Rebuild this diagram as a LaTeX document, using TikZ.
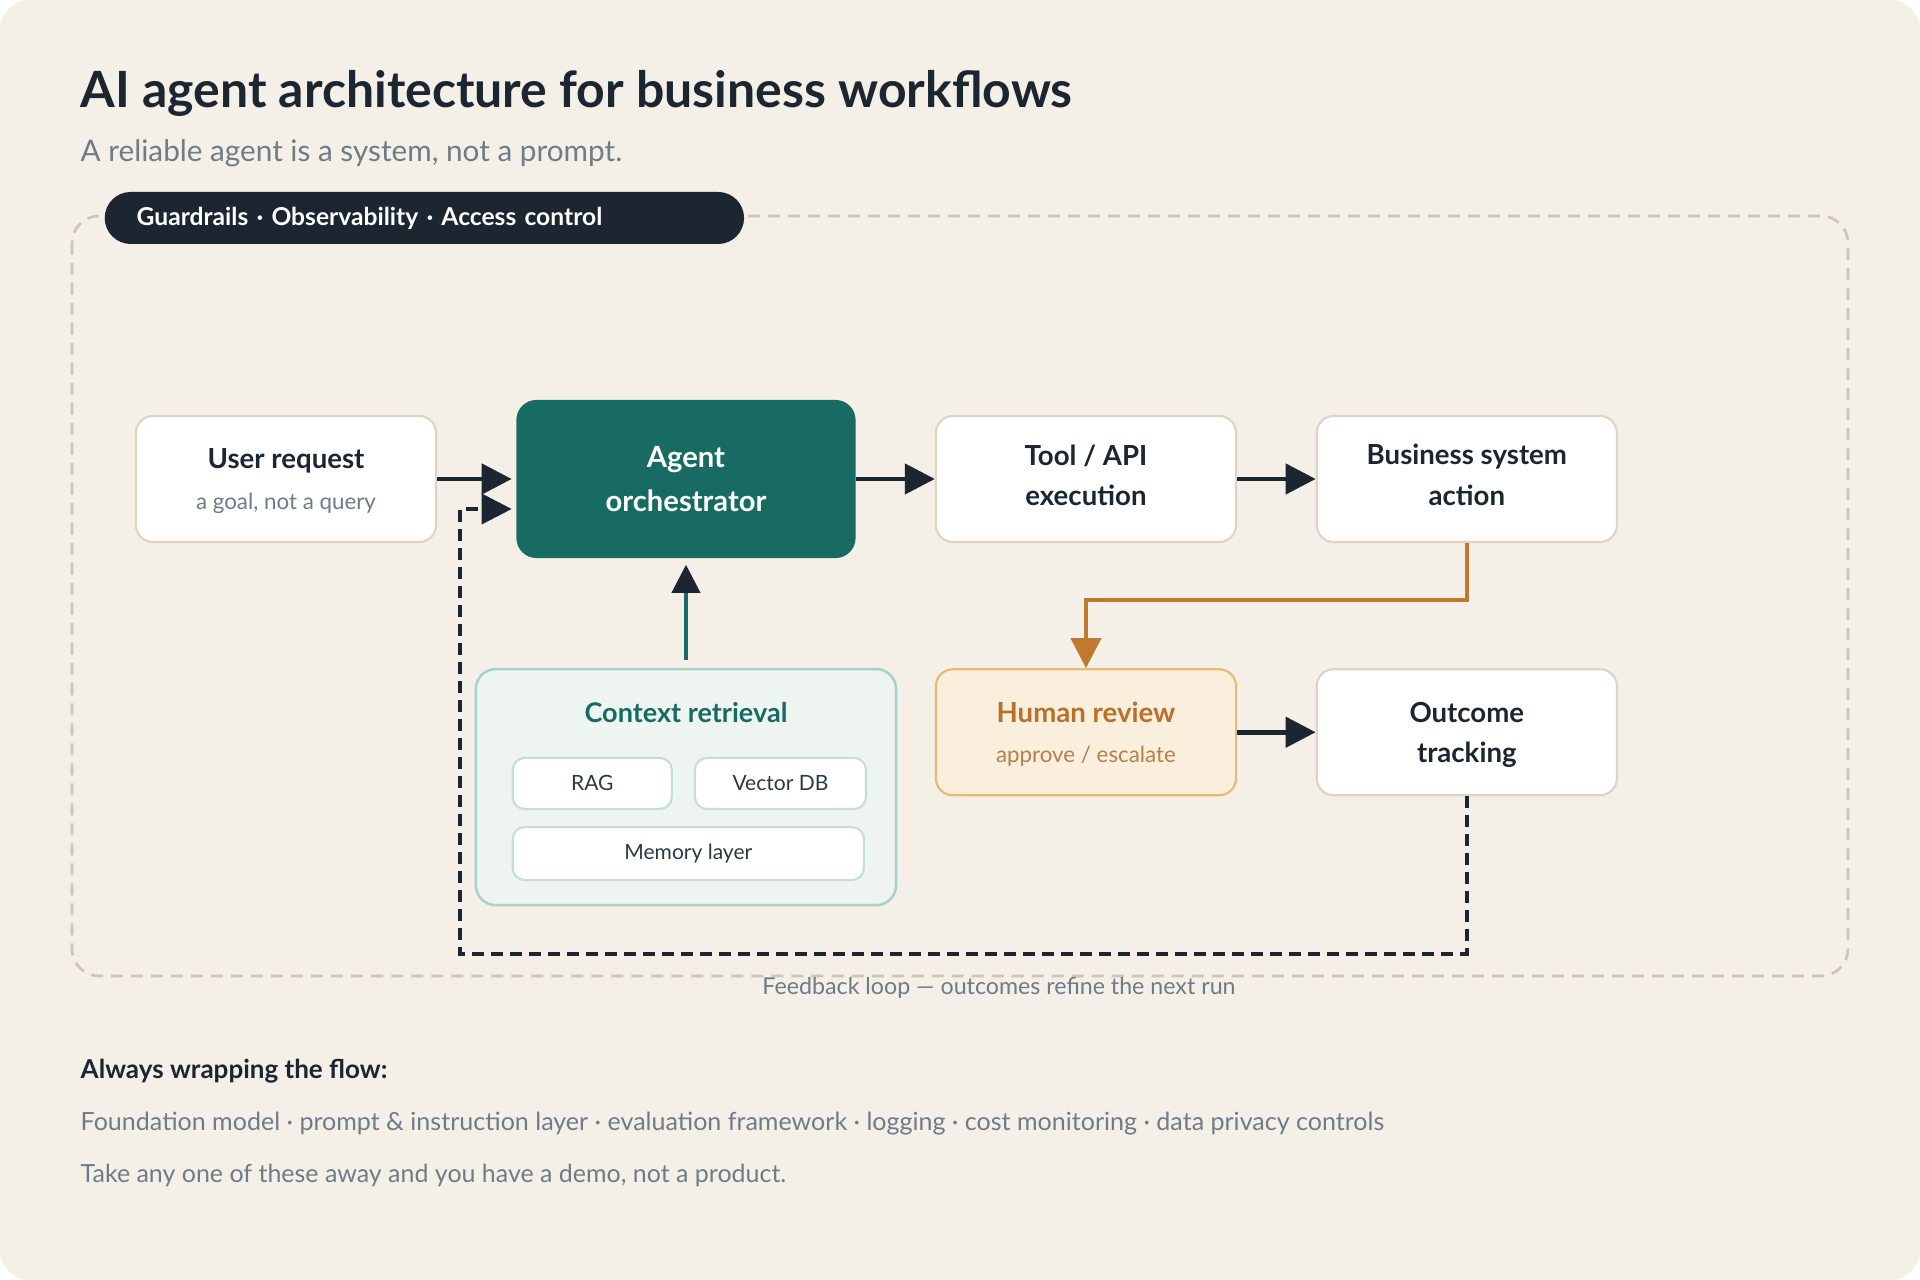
\documentclass[tikz,border=0pt]{standalone}
\usepackage{fontspec}
\setmainfont{Lato}
\usepackage{xcolor}
\usepackage{tikz}
\usetikzlibrary{arrows.meta, positioning, calc}

\definecolor{paper}{HTML}{F4EFE7}
\definecolor{ink}{HTML}{1B2631}
\definecolor{muted}{HTML}{6E7C87}
\definecolor{edge}{HTML}{DDD4C6}
\definecolor{framec}{HTML}{CFC5B2}
\definecolor{agentteal}{HTML}{176B62}
\definecolor{ctxfill}{HTML}{EEF4EF}
\definecolor{ctxedge}{HTML}{A5D2C9}
\definecolor{chipedge}{HTML}{C3DFD9}
\definecolor{chiptext}{HTML}{2B3A42}
\definecolor{amber}{HTML}{C07A2F}
\definecolor{amberfill}{HTML}{FAEEDC}
\definecolor{amberedge}{HTML}{E9BA72}
\definecolor{ambertitle}{HTML}{B8702A}
\definecolor{ambersub}{HTML}{B5804A}

\newcommand{\subline}[2][muted]{{\fontsize{6.35pt}{11.6pt}\selectfont\mdseries\color{#1}#2}}

\begin{document}
\begin{tikzpicture}[
  x=0.01cm, y=-0.01cm,
  box/.style={draw=edge, fill=white, line width=0.6pt, rounded corners=0.17cm, align=center,
    minimum width=3cm, minimum height=1.26cm, text=ink, text depth=0pt,
    font=\fontsize{7.85pt}{11.5pt}\selectfont\bfseries},
  lift/.style={text depth=0.08cm},
  hub/.style={fill=agentteal, rounded corners=0.2cm, align=center, minimum width=3.39cm,
    minimum height=1.58cm, text=white, font=\fontsize{8.3pt}{12.5pt}\selectfont\bfseries},
  review/.style={draw=amberedge, fill=amberfill, text=ambertitle},
  ctx/.style={draw=ctxedge, fill=ctxfill, line width=0.7pt, rounded corners=0.2cm,
    minimum width=4.2cm, minimum height=2.36cm},
  chip/.style={draw=chipedge, fill=white, line width=0.6pt, rounded corners=0.12cm,
    minimum height=0.51cm, text=chiptext, font=\fontsize{5.98pt}{7pt}\selectfont},
  arrow/.style={draw=ink, line width=1.3pt, -{Triangle[length=0.3cm, width=0.3cm]}},
  uparrow/.style={draw=agentteal, line width=1.1pt, -{Triangle[length=0.28cm, width=0.28cm, color=ink]}},
  escalate/.style={draw=amber, line width=1.1pt, -{Triangle[length=0.3cm, width=0.3cm]}},
  loop/.style={draw=ink, line width=1.1pt, dash pattern=on 0.12cm off 0.07cm,
    -{Triangle[length=0.3cm, width=0.3cm]}},
  frame/.style={draw=framec, line width=0.75pt, dash pattern=on 0.12cm off 0.08cm, rounded corners=0.27cm},
  pill/.style={fill=ink, rounded corners=0.26cm, text=white, minimum height=0.52cm, inner xsep=0.32cm,
    text width=5.75cm, align=left, font=\fontsize{7pt}{8pt}\selectfont\bfseries},
  plain/.style={anchor=base west, inner sep=0},
  node distance=1.25cm and 0.785cm
]
\useasboundingbox (0,0) rectangle (1920,1280);
\fill[white] (0,0) rectangle (1920,1280);
\fill[paper, rounded corners=0.3cm] (0,0) rectangle (1920,1280);

% heading
\node[plain, text=ink, font=\fontsize{14.2pt}{17pt}\selectfont\bfseries] (title) at (80,108)
  {AI agent architecture for business workflows};
\node[plain, text=muted, font=\fontsize{8.45pt}{10pt}\selectfont] (subtitle) at (80,162)
  {A reliable agent is a system, not a prompt.};

% wrapper
\draw[frame] (72,216) rectangle (1848,976);
\node[pill, anchor=west] (guard) at (104,218) {Guardrails · Observability · Access control};

% main flow
\node[box] (user) at (286,479) {User request\\\subline{a goal, not a query}};
\node[hub, right=of user] (agent) {Agent\\orchestrator};
\node[box, lift, right=of agent] (tool) {Tool / API\\execution};
\node[box, lift, right=of tool] (biz) {Business system\\action};
\node[box, review, below=of tool] (human) {Human review\\\subline[ambersub]{approve / escalate}};
\node[box, below=of biz] (outcome) {Outcome\\tracking};

% context retrieval
\node[ctx, below=1.09cm of agent] (ctx) {};
\node[anchor=base, text=agentteal, font=\fontsize{7.7pt}{9pt}\selectfont\bfseries] (ctxhead)
  at ($(ctx.north)+(0,55)$) {Context retrieval};
\node[chip, minimum width=1.59cm, below right=0.89cm and 0.37cm of ctx.north west] (rag) {RAG};
\node[chip, minimum width=1.71cm, right=0.21cm of rag] (vecdb) {Vector DB};
\node[chip, minimum width=3.51cm, minimum height=0.53cm, below right=0.16cm and 0cm of rag.south west] (memory) {Memory layer};

% connectors
\draw[arrow, shorten >=0.04cm] (user) -- (agent);
\draw[arrow] (agent) -- (tool);
\draw[arrow] (tool) -- (biz);
\draw[arrow] (human) -- (outcome);
\draw[escalate] (biz.south) -- ++(0,57) -| (human.north);
\draw[uparrow, shorten <=0.08cm, shorten >=0.06cm] (ctx.north) -- (agent.south);

% feedback loop
\coordinate (loopcorner) at (460,954);
\draw[loop, shorten >=0.04cm] (outcome.south) |- (loopcorner) |- ($(agent.west)+(0,30)$);
\node[anchor=base, text=muted, font=\fontsize{6.6pt}{8pt}\selectfont] (loopnote) at (999,995)
  {Feedback loop — outcomes refine the next run};

% footer
\node[plain, text=ink, font=\fontsize{7.4pt}{9pt}\selectfont\bfseries] (wraphead) at (80,1079)
  {Always wrapping the flow:};
\node[plain, text=muted, font=\fontsize{7.12pt}{8pt}\selectfont] (wraplist) at (80,1131)
  {Foundation model · prompt \& instruction layer · evaluation framework · logging · cost monitoring · data privacy controls};
\node[plain, text=muted, font=\fontsize{7.1pt}{8pt}\selectfont] (wrapnote) at (80,1183)
  {Take any one of these away and you have a demo, not a product.};
\end{tikzpicture}
\end{document}
